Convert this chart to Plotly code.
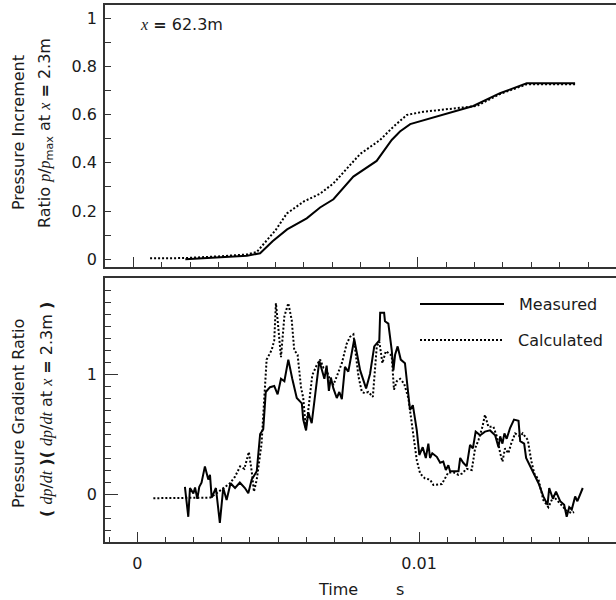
import numpy as np
import plotly.graph_objects as go

# ---------------- data (time in ms) ----------------
# pressure increment ratio at x = 62.3 m
t_inc_meas = [1.83, 3.0, 4.0, 4.46, 4.9, 5.41, 6.10, 6.57, 7.04, 7.74, 8.56, 9.09,
              9.38, 9.74, 10.91, 11.96, 12.90, 13.84, 15.54]
p_inc_meas = [0.0, 0.008, 0.015, 0.025, 0.075, 0.124, 0.17, 0.215, 0.249, 0.343, 0.408, 0.495,
              0.53, 0.561, 0.599, 0.636, 0.689, 0.730, 0.730]

t_inc_calc = [0.59, 1.8, 3.0, 4.0, 4.34, 5.0, 5.40, 6.0, 6.57, 7.04, 7.98, 8.68, 9.15,
              9.62, 10.2, 11.03, 12.08, 12.90, 13.84, 15.54]
p_inc_calc = [0.004, 0.005, 0.012, 0.02, 0.03, 0.12, 0.19, 0.24, 0.272, 0.315, 0.437, 0.495, 0.55,
              0.599, 0.612, 0.622, 0.636, 0.686, 0.726, 0.726]

# pressure gradient ratio
t_grad_meas = [1.69, 1.81, 1.87, 1.99, 2.05, 2.13, 2.20, 2.28, 2.40, 2.52, 2.58, 2.64, 2.79,
               2.93, 3.05, 3.17, 3.31, 3.47, 3.64, 3.82, 3.94, 4.06, 4.24, 4.36, 4.47, 4.56,
               4.71, 4.86, 4.98, 5.10, 5.22, 5.36, 5.50, 5.66, 5.84, 5.89, 5.99, 6.07, 6.19,
               6.46, 6.64, 6.72, 6.80, 6.87, 6.96, 7.08, 7.17, 7.26, 7.37, 7.49, 7.70, 7.91,
               8.12, 8.26, 8.41, 8.59, 8.62, 8.76, 8.79, 8.91, 9.03, 9.09, 9.15, 9.24, 9.35,
               9.50, 9.68, 9.78, 9.92, 10.01, 10.13, 10.24, 10.33, 10.39, 10.47, 10.63, 10.75,
               10.86, 10.95, 11.04, 11.10, 11.28, 11.40, 11.46, 11.57, 11.69, 11.81, 11.91,
               12.01, 12.17, 12.34, 12.52, 12.70, 12.82, 12.88, 12.96, 13.03, 13.11, 13.23,
               13.37, 13.53, 13.59, 13.73, 13.80, 14.06, 14.24, 14.41, 14.56, 14.62, 14.75,
               14.86, 15.01, 15.15, 15.24, 15.33, 15.42, 15.54, 15.62, 15.81]
g_grad_meas = [0.06, -0.19, 0.05, 0.005, 0.055, -0.04, 0.06, 0.095, 0.23, 0.12, 0.16, -0.03, 0.05,
               -0.24, 0.05, -0.05, 0.09, 0.05, 0.095, 0.05, 0.006, 0.12, 0.19, 0.50, 0.54, 0.85,
               0.89, 0.90, 0.83, 0.96, 0.94, 1.12, 0.96, 0.80, 0.755, 0.62, 0.53, 0.68, 0.59,
               1.11, 0.96, 1.07, 0.86, 0.97, 0.88, 0.80, 0.85, 0.79, 1.06, 1.02, 1.29, 1.03,
               0.88, 1.0, 1.23, 1.28, 1.51, 1.51, 1.44, 1.42, 1.2, 1.03, 1.16, 1.23, 1.12,
               1.09, 0.70, 0.74, 0.53, 0.325, 0.39, 0.30, 0.42, 0.30, 0.34, 0.31, 0.26,
               0.27, 0.20, 0.24, 0.19, 0.19, 0.19, 0.30, 0.26, 0.23, 0.41, 0.38,
               0.52, 0.49, 0.52, 0.53, 0.49, 0.39, 0.48, 0.42, 0.505, 0.46, 0.55,
               0.62, 0.61, 0.44, 0.42, 0.30, 0.17, 0.09, -0.02, -0.09, 0.05, -0.04,
               0.02, -0.06, -0.09, -0.19, -0.11, -0.13, -0.02, -0.06, 0.05]

t_grad_calc = [0.57, 2.60, 2.95, 3.29, 3.47, 3.65, 3.80, 3.96, 4.06, 4.14, 4.24, 4.41, 4.59,
               4.77, 4.86, 4.92, 4.98, 5.10, 5.22, 5.36, 5.48, 5.57, 5.69, 5.81, 5.89, 5.98,
               6.07, 6.21, 6.37, 6.49, 6.61, 6.72, 6.84, 6.96, 7.08, 7.26, 7.43, 7.55, 7.67,
               7.85, 7.97, 8.08, 8.20, 8.36, 8.50, 8.59, 8.70, 8.82, 8.95, 9.03, 9.11, 9.21,
               9.33, 9.47, 9.62, 9.70, 9.80, 9.92, 10.04, 10.21, 10.39, 10.51, 10.81, 10.92,
               11.04, 11.22, 11.40, 11.52, 11.69, 11.87, 11.99, 12.11, 12.25, 12.34, 12.46,
               12.64, 12.76, 12.88, 12.96, 13.05, 13.17, 13.27, 13.41, 13.59, 13.68, 13.86,
               13.98, 14.09, 14.24, 14.41, 14.59, 14.77, 15.01, 15.24, 15.42, 15.50]
g_grad_calc = [-0.035, -0.03, 0.03, 0.09, 0.145, 0.23, 0.21, 0.35, 0.19, 0.02, 0.12, 0.42, 1.12,
               1.20, 1.28, 1.59, 1.45, 1.14, 1.48, 1.59, 1.45, 1.20, 1.16, 0.89, 0.80, 0.55,
               0.70, 0.99, 1.075, 1.12, 1.05, 1.03, 0.95, 0.91, 0.98, 1.09, 1.25, 1.31, 1.33,
               0.98, 0.85, 0.84, 0.85, 0.81, 1.23, 1.27, 1.09, 1.19, 1.17, 1.15, 0.87, 0.94,
               0.96, 0.92, 0.80, 0.67, 0.48, 0.28, 0.17, 0.13, 0.12, 0.075, 0.083, 0.13,
               0.18, 0.18, 0.16, 0.17, 0.21, 0.20, 0.38, 0.45, 0.56, 0.66, 0.56,
               0.56, 0.48, 0.34, 0.27, 0.38, 0.34, 0.42, 0.505, 0.48, 0.505, 0.45,
               0.28, 0.17, 0.12, -0.05, -0.11, -0.02, -0.08, -0.14, -0.16, -0.15]

ms = 1e-3
FONT = "DejaVu Sans"
SERIF_I = "font-family:Liberation Serif;font-style:italic"
AXC = "#333333"
TXT = "#1a1a1a"


def it(s):
    return f'<span style="{SERIF_I}">{s}</span>'


fig = go.Figure()

solid = dict(color="black", width=2)
dotted = dict(color="black", width=2, dash="2px,2px")

fig.add_trace(go.Scatter(x=np.array(t_inc_calc) * ms, y=p_inc_calc, mode="lines",
                         line=dotted, xaxis="x", yaxis="y", showlegend=False))
fig.add_trace(go.Scatter(x=np.array(t_inc_meas) * ms, y=p_inc_meas, mode="lines",
                         line=solid, xaxis="x", yaxis="y", showlegend=False))
fig.add_trace(go.Scatter(x=np.array(t_grad_calc) * ms, y=g_grad_calc, mode="lines",
                         line=dotted, xaxis="x2", yaxis="y2", showlegend=False))
fig.add_trace(go.Scatter(x=np.array(t_grad_meas) * ms, y=g_grad_meas, mode="lines",
                         line=solid, xaxis="x2", yaxis="y2", showlegend=False))

L, R, T, B = 105, 0, 5, 58
W, H = 616, 600
PW, PH = W - L - R, H - T - B


def xp(px):
    return (px - L) / PW


def yp(py):
    return (H - B - py) / PH


common_x = dict(showline=True, linecolor=AXC, linewidth=1.5, mirror=True,
                ticks="inside", ticklen=10, tickwidth=1.2, tickcolor=AXC,
                tick0=0, dtick=0.01, showgrid=False, zeroline=False,
                minor=dict(ticks="inside", ticklen=5, tickwidth=1.2, tickcolor=AXC,
                           tick0=0, dtick=0.001, showgrid=False),
                tickfont=dict(family=FONT, size=16, color=TXT))

common_y = dict(showline=True, linecolor=AXC, linewidth=1.5, mirror=False,
                ticks="inside", tickwidth=1.2, tickcolor=AXC, showgrid=False,
                zeroline=False, tickfont=dict(family=FONT, size=16, color=TXT),
                ticklabelstandoff=3)

fig.update_layout(
    width=W, height=H,
    margin=dict(l=L, r=R, t=T, b=B),
    paper_bgcolor="white", plot_bgcolor="white",
    xaxis=dict(common_x, domain=[0, 1], anchor="y", range=[-0.000996, 0.01698],
               showticklabels=False),
    yaxis=dict(common_y, domain=[yp(267), 1], anchor="x", range=[-0.032, 1.055],
               tick0=0, dtick=0.2, ticklen=6,
               minor=dict(ticks="inside", ticklen=6, tickwidth=1.2, tickcolor=AXC,
                          tick0=0, dtick=0.1, showgrid=False)),
    xaxis2=dict(common_x, domain=[0, 1], anchor="y2", range=[-0.001146, 0.01699],
                showticklabels=True, ticklabelstandoff=6),
    yaxis2=dict(common_y, domain=[0, yp(278)], anchor="x2", range=[-0.4, 1.8],
                tickvals=[0, 1], ticktext=["0", "1"], ticklen=13,
                minor=dict(ticks="inside", ticklen=6, tickwidth=1.2, tickcolor=AXC,
                           tick0=0, dtick=0.1, showgrid=False)),
    showlegend=False,
)

ann_font = dict(family=FONT, size=16, color=TXT)
annotations = [
    dict(text="Pressure Increment", x=xp(18), y=yp(133), textangle=-90),
    dict(text=f"Ratio {it('p')}/{it('p')}<sub>max</sub> at {it('x')} <b>=</b> 2.3m",
         x=xp(45), y=yp(133), textangle=-90),
    dict(text="Pressure Gradient Ratio", x=xp(18), y=yp(414), textangle=-90),
    dict(text=f"<b>(</b> {it('dp')}/{it('dt')} <b>)(</b> {it('dp')}/{it('dt')} at {it('x')} <b>=</b> 2.3m <b>)</b>",
         x=xp(46), y=yp(410), textangle=-90),
    dict(text="Time", x=xp(338), y=yp(589)),
    dict(text="s", x=xp(400), y=yp(589)),
    dict(text=f"{it('x')} <b>=</b> 62.3m", x=xp(138), y=yp(24), xanchor="left"),
    dict(text="Measured", x=xp(517), y=yp(304), xanchor="left"),
    dict(text="Calculated", x=xp(516), y=yp(340), xanchor="left"),
]
for a in annotations:
    a.setdefault("xanchor", "center")
    fig.add_annotation(xref="paper", yref="paper", showarrow=False, yanchor="middle",
                       font=ann_font, **a)

# legend keys
fig.add_shape(type="line", xref="paper", yref="paper", x0=xp(420), x1=xp(504),
              y0=yp(304), y1=yp(304), line=dict(color="black", width=2))
fig.add_shape(type="line", xref="paper", yref="paper", x0=xp(420), x1=xp(504),
              y0=yp(340), y1=yp(340), line=dict(color="black", width=2, dash="2px,2px"))

fig.write_html("out.html")
